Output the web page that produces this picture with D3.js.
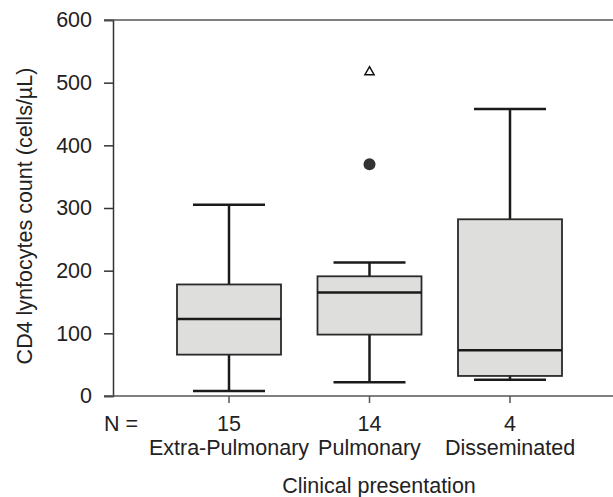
<!DOCTYPE html>
<html><head><meta charset="utf-8">
<script src="https://cdn.jsdelivr.net/npm/d3@7"></script>
<style>body{margin:0;background:#fff}svg{display:block}text{font-family:"Liberation Sans",Arial,sans-serif;fill:#222}</style>
</head><body>
<script>
const categories = ["Extra-Pulmonary", "Pulmonary", "Disseminated"];
const counts = [15, 14, 4];
const whiskerLow = [8, 22, 26];
const q1 = [66, 98, 32];
const median = [123, 165, 73];
const q3 = [178, 191, 282];
const whiskerHigh = [305, 213, 458];
const outlierCircles = [{cat: "Pulmonary", value: 370}];
const outlierExtremes = [{cat: "Pulmonary", value: 517}];
const yTicks = [0, 100, 200, 300, 400, 500, 600];

const W = 613, H = 497;
const svg = d3.select("body").append("svg").attr("width", W).attr("height", H);
const x0 = 113, xEnd = 613, yTop = 20, yBot = 396;
const x = d3.scalePoint().domain(categories).range([229, 510]);
const y = d3.scaleLinear().domain([0, 600]).range([yBot, yTop]);
const boxW = 104, capW = 72;
const fs = 21.5;

// left axis
const yAxis = d3.axisLeft(y).tickValues(yTicks).tickSize(9).tickPadding(12);
const gy = svg.append("g").attr("transform", `translate(${x0},0)`).call(yAxis);
gy.select(".domain").attr("stroke", "#333").attr("stroke-width", 1.5);
gy.selectAll(".tick line").attr("stroke", "#333").attr("stroke-width", 1.5);
gy.selectAll(".tick text").attr("font-size", fs).attr("fill", "#222").attr("font-family", "Liberation Sans, Arial, sans-serif");

// top line and bottom axis
svg.append("line").attr("x1", x0 - 9).attr("x2", xEnd).attr("y1", y(600)).attr("y2", y(600)).attr("stroke", "#555").attr("stroke-width", 1.5);
svg.append("line").attr("x1", x0 - 9).attr("x2", xEnd).attr("y1", y(0)).attr("y2", y(0)).attr("stroke", "#555").attr("stroke-width", 1.5);
svg.selectAll(".xt").data(categories).enter().append("line")
  .attr("x1", d => x(d)).attr("x2", d => x(d)).attr("y1", yBot).attr("y2", yBot + 7)
  .attr("stroke", "#555").attr("stroke-width", 1.5);

// boxes
const g = svg.append("g");
categories.forEach((c, i) => {
  const cx = x(c);
  g.append("line").attr("x1", cx).attr("x2", cx).attr("y1", y(q3[i])).attr("y2", y(whiskerHigh[i])).attr("stroke", "#1a1a1a").attr("stroke-width", 2.5);
  g.append("line").attr("x1", cx).attr("x2", cx).attr("y1", y(q1[i])).attr("y2", y(whiskerLow[i])).attr("stroke", "#1a1a1a").attr("stroke-width", 2.5);
  g.append("line").attr("x1", cx - capW / 2).attr("x2", cx + capW / 2).attr("y1", y(whiskerHigh[i])).attr("y2", y(whiskerHigh[i])).attr("stroke", "#1a1a1a").attr("stroke-width", 2.5);
  g.append("line").attr("x1", cx - capW / 2).attr("x2", cx + capW / 2).attr("y1", y(whiskerLow[i])).attr("y2", y(whiskerLow[i])).attr("stroke", "#1a1a1a").attr("stroke-width", 2.5);
  g.append("rect").attr("x", cx - boxW / 2).attr("width", boxW).attr("y", y(q3[i])).attr("height", y(q1[i]) - y(q3[i]))
    .attr("fill", "#dededc").attr("stroke", "#2a2a2a").attr("stroke-width", 1.8);
  g.append("line").attr("x1", cx - boxW / 2).attr("x2", cx + boxW / 2).attr("y1", y(median[i])).attr("y2", y(median[i])).attr("stroke", "#1a1a1a").attr("stroke-width", 2.5);
});

// outliers
g.selectAll(".oc").data(outlierCircles).enter().append("circle")
  .attr("cx", d => x(d.cat)).attr("cy", d => y(d.value)).attr("r", 6).attr("fill", "#333");
g.selectAll(".oe").data(outlierExtremes).enter().append("path")
  .attr("d", d3.symbol().type(d3.symbolTriangle).size(36))
  .attr("transform", d => `translate(${x(d.cat)},${y(d.value)})`)
  .attr("fill", "none").attr("stroke", "#111").attr("stroke-width", 1.5);

// N labels
svg.append("text").attr("x", 104).attr("y", 431).attr("font-size", fs).text("N =");
svg.selectAll(".n").data(categories).enter().append("text")
  .attr("x", d => x(d)).attr("y", 431).attr("text-anchor", "middle").attr("font-size", fs)
  .text((d, i) => counts[i]);
svg.selectAll(".cl").data(categories).enter().append("text")
  .attr("x", d => x(d)).attr("y", 455).attr("text-anchor", "middle").attr("font-size", fs)
  .text(d => d);

// axis titles
svg.append("text").attr("x", 379).attr("y", 493).attr("text-anchor", "middle").attr("font-size", fs).text("Clinical presentation");
svg.append("text").attr("transform", "translate(32,216) rotate(-90)").attr("text-anchor", "middle").attr("font-size", fs).text("CD4 lynfocytes count (cells/µL)");
</script>
</body></html>
